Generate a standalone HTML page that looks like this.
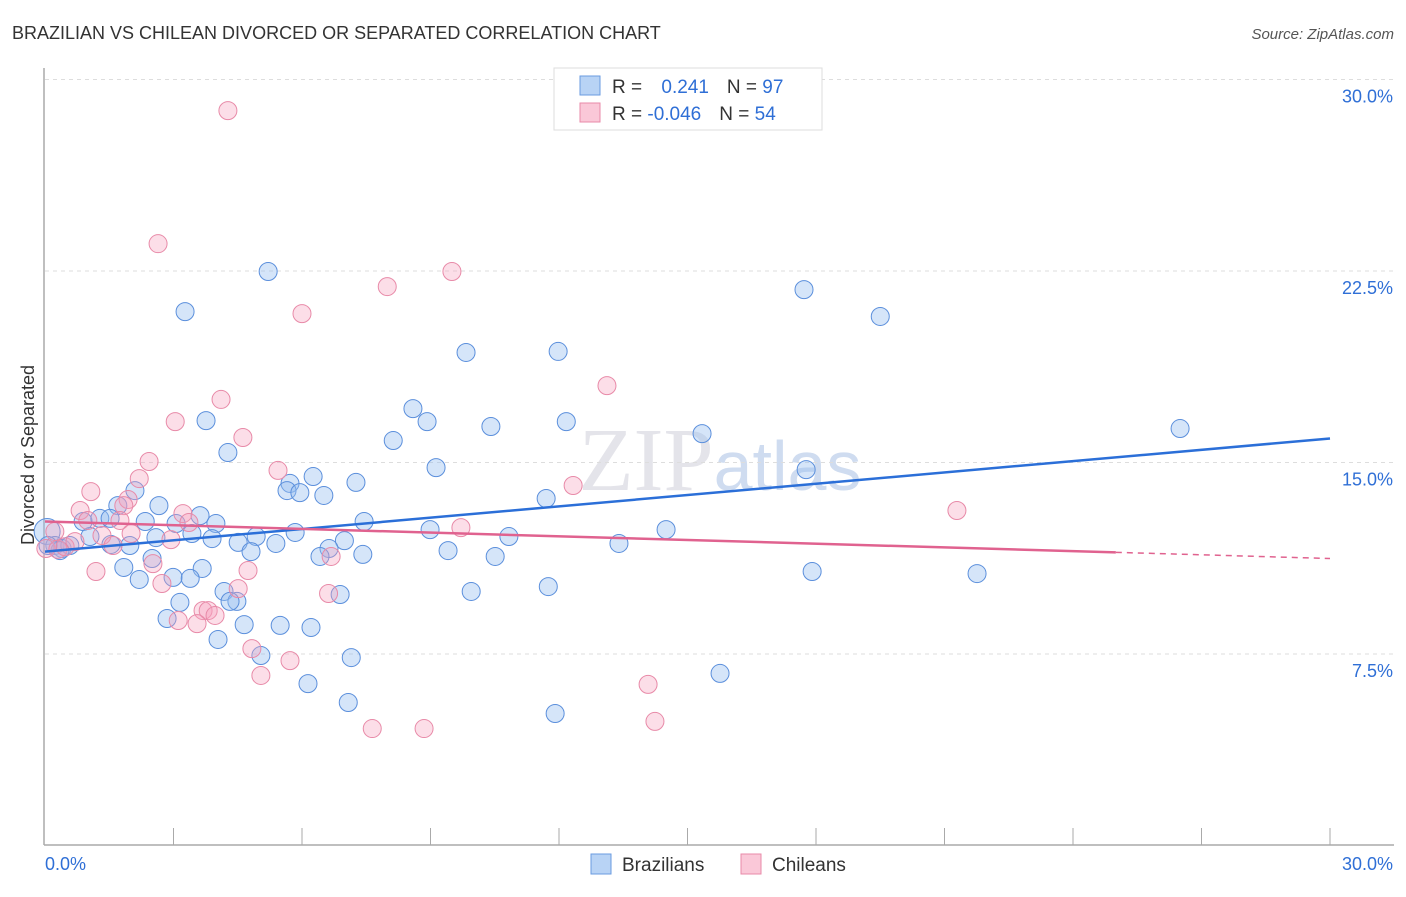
<!DOCTYPE html>
<html><head><meta charset="utf-8"><style>
body{margin:0;background:#fff;font-family:"Liberation Sans",sans-serif;}
</style></head><body>
<svg width="1406" height="892" xmlns="http://www.w3.org/2000/svg" id="chart" font-family="Liberation Sans, sans-serif">
<text x="12" y="39" font-size="18" fill="#333">BRAZILIAN VS CHILEAN DIVORCED OR SEPARATED CORRELATION CHART</text>
<text x="1394" y="39" font-size="15" fill="#555" text-anchor="end" font-style="italic">Source: ZipAtlas.com</text>
<text x="720" y="490" font-size="90" fill="#e4e4ea" text-anchor="middle" font-family="Liberation Serif, serif">ZIP<tspan fill="#cfdcf0" font-family="Liberation Sans, sans-serif" font-size="70">atlas</tspan></text>
<g id="grid"></g><g id="axes"></g><g id="pts"></g><g id="lines"></g>
<text transform="translate(34,455) rotate(-90)" font-size="18" fill="#333" text-anchor="middle">Divorced or Separated</text>
<g>
<rect x="554" y="68" width="268" height="62" fill="#fff" stroke="#ddd"/>
<rect x="580" y="76" width="20" height="19" fill="#b8d3f5" stroke="#6a9be0"/>
<rect x="580" y="103" width="20" height="19" fill="#fac8d8" stroke="#e88aa8"/>
<text x="612" y="93" font-size="19" fill="#333">R = <tspan fill="#2f6fd6" dx="14">0.241</tspan><tspan dx="18">N = </tspan><tspan fill="#2f6fd6">97</tspan></text>
<text x="612" y="120" font-size="19" fill="#333">R = <tspan fill="#2f6fd6">-0.046</tspan><tspan dx="18">N = </tspan><tspan fill="#2f6fd6">54</tspan></text>
</g>
<g>
<rect x="591" y="854" width="20" height="20" fill="#b8d3f5" stroke="#6a9be0"/>
<text x="622" y="871" font-size="19" fill="#333">Brazilians</text>
<rect x="741" y="854" width="20" height="20" fill="#fac8d8" stroke="#e88aa8"/>
<text x="772" y="871" font-size="19" fill="#333">Chileans</text>
</g>
</svg>
<script>
const yTicks=[7.5,15,22.5,30];
const yTickLabels=["7.5%","15.0%","22.5%","30.0%"];
const xTickLabels=["0.0%","30.0%"];
const blueX=[5.21,3.27,17.72,19.50,9.83,11.98,8.59,8.92,3.76,10.41,12.17,15.34,26.50,8.13,4.27,9.13,17.77,6.26,5.72,5.65,5.95,7.26,6.51,2.10,11.70,2.66,1.70,3.62,2.34,3.06,3.99,7.45,0.89,1.28,1.52,8.99,14.50,3.43,3.90,4.93,5.84,10.83,6.99,4.51,2.59,1.98,1.54,1.05,5.39,13.40,4.81,9.41,6.63,7.42,6.42,10.51,2.50,1.84,3.67,17.91,21.76,2.99,3.39,2.20,11.75,9.95,6.89,4.18,3.15,4.48,4.32,2.85,4.65,5.49,6.21,4.04,5.04,7.15,15.76,6.14,7.08,11.91,0.05,0.23,0.40,0.58,0.35,0.07];
const blueY=[22.48,20.91,21.77,20.72,19.31,19.35,17.11,16.60,16.64,16.41,16.60,16.13,16.33,15.86,15.39,14.80,14.72,14.45,14.18,13.90,13.82,14.22,13.71,13.90,13.59,13.31,13.31,12.92,12.69,12.61,12.61,12.69,12.69,12.81,12.81,12.37,12.37,12.22,12.02,12.10,12.26,12.10,11.94,11.87,12.06,11.75,11.79,12.10,11.83,11.83,11.51,11.55,11.63,11.40,11.32,11.32,11.24,10.89,10.85,10.73,10.65,10.50,10.46,10.42,10.14,9.95,9.83,9.95,9.52,9.56,9.56,8.89,8.65,8.62,8.54,8.07,7.44,7.36,6.74,6.34,5.60,5.17,12.3,11.75,11.63,11.75,11.55,11.75];
const pinkX=[4.27,2.64,9.50,7.99,6.00,13.12,4.11,3.04,4.62,2.43,5.44,2.20,12.33,1.07,1.94,1.84,0.82,3.22,21.29,1.75,3.36,1.00,9.71,2.01,1.33,2.94,1.59,2.52,1.19,4.74,6.68,2.73,4.51,6.62,3.69,3.81,3.97,3.11,3.55,4.83,5.72,5.04,14.08,14.24,7.64,8.85,0.23,0.02,0.3,0.47,0.7];
const pinkY=[28.78,23.57,22.48,21.89,20.83,18.01,17.47,16.60,15.98,15.04,14.69,14.37,14.10,13.86,13.55,13.31,13.12,13.00,13.12,12.73,12.65,12.73,12.45,12.22,12.14,11.98,11.75,11.04,10.73,10.77,11.32,10.26,10.06,9.87,9.20,9.20,9.01,8.81,8.69,7.71,7.24,6.66,6.31,4.86,4.58,4.58,12.3,11.63,11.6,11.7,11.9];
const blueTrend=[11.51,15.94];
const pinkTrend=[12.69,11.24];
const NS="http://www.w3.org/2000/svg";
const X=v=>45+v/30*1285, Y=v=>845.5-v/7.5*191.5;
function mk(t,a,p){const e=document.createElementNS(NS,t);for(const k in a)e.setAttribute(k,a[k]);p.appendChild(e);return e;}
const grid=document.getElementById('grid'),axes=document.getElementById('axes');
yTicks.forEach((t,i)=>{
 const l=mk('line',{x1:45,x2:1394,y1:Y(t),y2:Y(t),stroke:'#ddd','stroke-dasharray':'4,4'},grid);
 
 
 const tx=mk('text',{x:1393,y:Y(t)+23,'font-size':18,fill:'#2f6fd6','text-anchor':'end'},axes);
 tx.textContent=yTickLabels[i];
 
 
});
const ya=mk('line',{x1:44,x2:44,y1:68,y2:845,stroke:'#aaa','stroke-width':1.5},axes);


const xa=mk('line',{x1:44,x2:1394,y1:845,y2:845,stroke:'#aaa','stroke-width':1.5},axes);


for(let i=1;i<=10;i++){const x=45+i*128.5;const t=mk('line',{x1:x,x2:x,y1:828,y2:845,stroke:'#aaa'},axes);
 
 }
[[0,'start',45],[30,'end',1393]].forEach((d,i)=>{const t=mk('text',{x:d[2],y:870,'font-size':18,fill:'#2f6fd6','text-anchor':d[1]},axes);t.textContent=xTickLabels[i];
 
 });
const pts=document.getElementById('pts');
blueX.forEach((x,i)=>{const c=mk('circle',{cx:X(x),cy:Y(blueY[i]),r:i==82?13:9,fill:'rgba(150,190,240,0.4)',stroke:'#5b8fdc','stroke-width':1},pts);
 
 });
pinkX.forEach((x,i)=>{const c=mk('circle',{cx:X(x),cy:Y(pinkY[i]),r:9,fill:'rgba(245,160,190,0.35)',stroke:'#e88aa8','stroke-width':1},pts);
 
 });
const lines=document.getElementById('lines');
const bl=mk('line',{x1:X(0),y1:Y(blueTrend[0]),x2:X(30),y2:Y(blueTrend[1]),stroke:'#2b6fd8','stroke-width':2.5},lines);


const pAt=v=>pinkTrend[0]+(pinkTrend[1]-pinkTrend[0])*v/30;
const pl=mk('line',{x1:X(0),y1:Y(pAt(0)),x2:X(25),y2:Y(pAt(25)),stroke:'#e0628f','stroke-width':2.5},lines);


const pd=mk('line',{x1:X(25),y1:Y(pAt(25)),x2:X(30),y2:Y(pAt(30)),stroke:'#e0628f','stroke-width':1.5,'stroke-dasharray':'6,5'},lines);


</script>
</body></html>
